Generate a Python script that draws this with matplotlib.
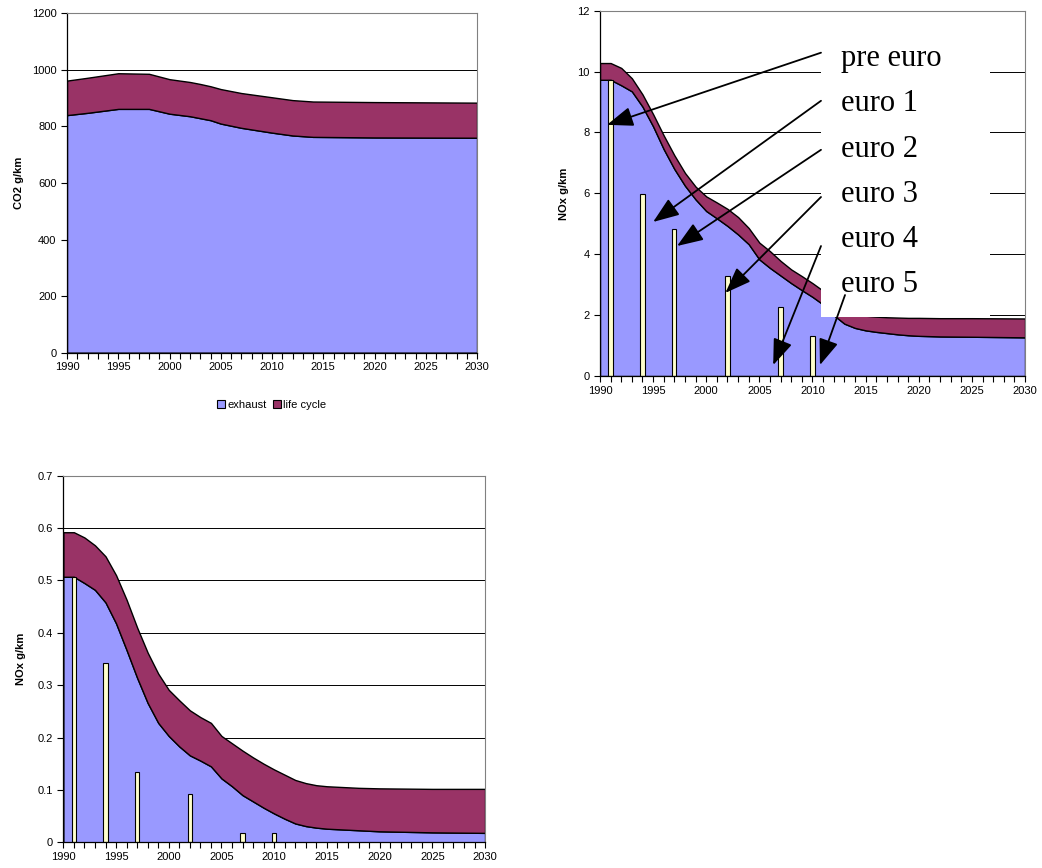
import matplotlib.pyplot as plt
from matplotlib.patches import Rectangle, Patch
from matplotlib.ticker import MultipleLocator, FuncFormatter

# CO2 chart
co2_years = [1990, 1992, 1995, 1998, 2000, 2002, 2003, 2004, 2005, 2007, 2010, 2012, 2014, 2020, 2030]
co2_exhaust = [840, 848, 862, 862, 845, 836, 829, 822, 810, 795, 778, 768, 763, 761, 760]
co2_life = [122, 124, 126, 124, 122, 121, 121, 120, 122, 123, 125, 125, 125, 125, 124]

# NOx chart, top right
nox1_years = list(range(1990, 2021)) + [2022, 2025, 2030]
nox1_exhaust = [9.73, 9.73, 9.55, 9.35, 8.85, 8.2, 7.45, 6.8, 6.25, 5.8, 5.42, 5.18, 4.93,
                4.65, 4.33, 3.83, 3.55, 3.3, 3.05, 2.82, 2.6, 2.35, 2.0, 1.72, 1.58, 1.5,
                1.45, 1.41, 1.37, 1.34, 1.32, 1.3, 1.29, 1.27]
nox1_life = [0.55, 0.55, 0.57, 0.43, 0.40, 0.40, 0.45, 0.45, 0.42, 0.42, 0.48, 0.52, 0.56,
             0.57, 0.53, 0.55, 0.55, 0.48, 0.45, 0.46, 0.45, 0.45, 0.45, 0.48, 0.47, 0.48,
             0.50, 0.52, 0.55, 0.57, 0.59, 0.60, 0.61, 0.62]
limit_years = [1991, 1994, 1997, 2002, 2007, 2010]
nox1_limits = [9.72, 5.98, 4.84, 3.27, 2.28, 1.30]

# NOx chart, bottom left
nox2_years = list(range(1990, 2019)) + [2020, 2025, 2030]
nox2_exhaust = [0.507, 0.507, 0.495, 0.482, 0.458, 0.418, 0.367, 0.314, 0.266, 0.228, 0.203,
                0.183, 0.166, 0.156, 0.145, 0.122, 0.107, 0.090, 0.078, 0.066, 0.055, 0.045,
                0.036, 0.031, 0.028, 0.026, 0.025, 0.024, 0.023, 0.021, 0.019, 0.018]
nox2_life = [0.085, 0.085, 0.087, 0.085, 0.088, 0.092, 0.096, 0.096, 0.096, 0.094, 0.088,
             0.088, 0.086, 0.083, 0.083, 0.081, 0.082, 0.085, 0.084, 0.084, 0.084, 0.084,
             0.083, 0.082, 0.081, 0.081, 0.081, 0.081, 0.081, 0.082, 0.083, 0.084]
nox2_limits = [0.507, 0.342, 0.135, 0.093, 0.018, 0.018]

# callout labels with arrow start / tip in data units of the top right chart
euro_labels = ["pre euro", "euro 1", "euro 2", "euro 3", "euro 4", "euro 5"]
label_y = [10.17, 8.69, 7.21, 5.73, 4.25, 2.77]
arrow_start = [(2010.8, 10.62), (2010.8, 9.04), (2010.8, 7.43), (2010.8, 5.88),
               (2010.8, 4.27), (2013.06, 2.66)]
arrow_tip = [(1990.66, 8.25), (1995.0, 5.06), (1997.25, 4.27), (2001.8, 2.73),
             (2006.3, 0.36), (2010.7, 0.36)]

BLUE = "#9999FF"
MAROON = "#993366"
BAR = "#FFFFCC"

plt.rcParams["font.family"] = ["Liberation Sans", "DejaVu Sans"]
plt.rcParams["font.size"] = 8

fig = plt.figure(figsize=(10.42, 8.68), dpi=100)


def style_axes(ax, ymax, ystep, ylabel):
    ax.set_xlim(1990, 2030)
    ax.set_ylim(0, ymax)
    ax.xaxis.set_major_locator(MultipleLocator(5))
    ax.xaxis.set_minor_locator(MultipleLocator(1))
    ax.yaxis.set_major_locator(MultipleLocator(ystep))
    ax.yaxis.set_major_formatter(FuncFormatter(lambda v, p: f"{v:g}"))
    ax.tick_params(axis="both", which="both", direction="out", length=4, width=0.8,
                   labelsize=8, colors="black")
    ax.tick_params(axis="x", pad=3)
    ax.grid(True, axis="y", color="black", linewidth=0.7)
    ax.set_axisbelow(True)
    for s in ["top", "right"]:
        ax.spines[s].set_color("#808080")
        ax.spines[s].set_linewidth(0.8)
    for s in ["left", "bottom"]:
        ax.spines[s].set_color("black")
        ax.spines[s].set_linewidth(0.9)
    ax.set_ylabel(ylabel, fontsize=8, fontweight="bold")


def stacked(ax, years, exhaust, life):
    top = [a + b for a, b in zip(exhaust, life)]
    ax.fill_between(years, 0, exhaust, facecolor=BLUE, edgecolor="black", linewidth=1.0,
                    zorder=1)
    ax.fill_between(years, exhaust, top, facecolor=MAROON, edgecolor="black", linewidth=1.0,
                    zorder=1)


# --- CO2 ---
ax1 = fig.add_axes([0.0643, 0.5937, 0.3935, 0.391])
stacked(ax1, co2_years, co2_exhaust, co2_life)
style_axes(ax1, 1200, 200, "CO2 g/km")
ax1.yaxis.labelpad = 6
handles = [Patch(facecolor=BLUE, edgecolor="black", linewidth=0.8),
           Patch(facecolor=MAROON, edgecolor="black", linewidth=0.8)]
ax1.legend(handles, ["exhaust", "life cycle"], loc="center", bbox_to_anchor=(0.5, -0.153),
           ncol=2, frameon=False, fontsize=8, handlelength=0.7, handleheight=0.7,
           handletextpad=0.2, columnspacing=0.6)

# --- NOx top right ---
ax2 = fig.add_axes([0.5758, 0.5668, 0.4079, 0.4209])
stacked(ax2, nox1_years, nox1_exhaust, nox1_life)
ax2.bar(limit_years, nox1_limits, width=0.4, color=BAR, edgecolor="black", linewidth=0.8,
        zorder=2)
style_axes(ax2, 12, 2, "NOx g/km")
ax2.yaxis.labelpad = 6
ax2.add_patch(Rectangle((2010.8, 1.93), 2026.7 - 2010.8, 11.9 - 1.93, facecolor="white",
                        edgecolor="none", zorder=3))
for name, ly, start, tip in zip(euro_labels, label_y, arrow_start, arrow_tip):
    ax2.text(2012.68, ly, name, family=["Liberation Serif", "DejaVu Serif"], fontsize=22,
             va="baseline", ha="left", zorder=5)
    ax2.annotate("", xy=tip, xytext=start, zorder=4,
                 arrowprops=dict(arrowstyle="-|>,head_length=0.8,head_width=0.3",
                                 mutation_scale=20, color="black", lw=1.3,
                                 shrinkA=0, shrinkB=0))

# --- NOx bottom left ---
ax3 = fig.add_axes([0.0608, 0.0296, 0.4047, 0.4224])
stacked(ax3, nox2_years, nox2_exhaust, nox2_life)
ax3.bar(limit_years, nox2_limits, width=0.4, color=BAR, edgecolor="black", linewidth=0.8,
        zorder=2)
style_axes(ax3, 0.7, 0.1, "NOx g/km")
ax3.yaxis.labelpad = 8

fig.savefig("out.png", dpi=100)
